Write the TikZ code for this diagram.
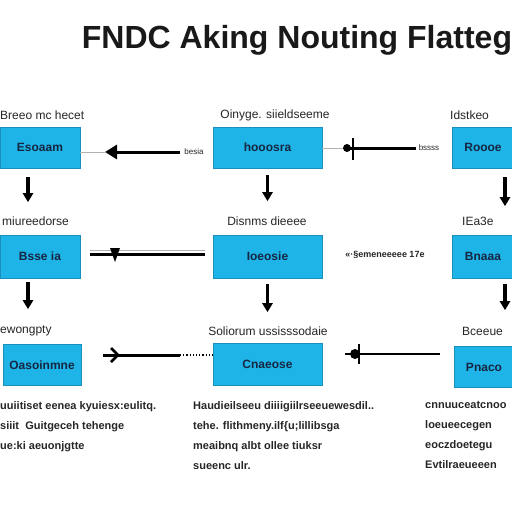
\documentclass[tikz,border=0pt]{standalone}
\usepackage{fontspec}
\setmainfont{Liberation Sans}
\usetikzlibrary{positioning}
\usetikzlibrary{calc}
\usetikzlibrary{arrows.meta}
\definecolor{boxblue}{RGB}{30,180,232}
\definecolor{boxtext}{RGB}{22,38,66}
\definecolor{inkgray}{RGB}{38,38,38}
\tikzset{%
  bx/.style = {rectangle,fill=boxblue,draw=boxblue!80!black,line width=0.4pt,
        minimum height=41pt,inner sep=0pt,font=\fontsize{12}{12}\selectfont\bfseries,
        text=boxtext},
  lbl/.style = {font=\fontsize{12}{12}\selectfont,text=inkgray,inner sep=0pt},
  note/.style = {font=\fontsize{11}{20}\selectfont\bfseries,text=inkgray,
        inner sep=0pt,align=left,anchor=north west},
  downarrow/.style = {-{Triangle[length=9pt,width=10pt]},line width=3.5pt},
  flowline/.style = {line width=3pt},
  thinline/.style = {line width=0.8pt,gray!60}
}
\begin{document}
\begin{tikzpicture}[x=1pt,y=-1pt]
\useasboundingbox (0,0) rectangle (512,512);
\fill[white] (0,0) rectangle (512,512);
% title
\node[font=\fontsize{32}{32}\selectfont\bfseries,text=black!90] (title) at (297,40)
    {FNDC Aking Nouting Flatteg};
% boxes
\node[bx,minimum width=80pt]  (b11) at (40,147.5)  {Esoaam};
\node[bx,minimum width=109pt] (b12) at (267.5,147.5) {hooosra};
\node[bx,minimum width=62pt]  (b13) at (483,147.5) {Roooe};
\node[bx,minimum width=80pt,minimum height=43pt]  (b21) at (40,256.5) {Bsse ia};
\node[bx,minimum width=109pt,minimum height=43pt] (b22) at (267.5,256.5) {Ioeosie};
\node[bx,minimum width=62pt,minimum height=43pt]  (b23) at (483,256.5) {Bnaaa};
\node[bx,minimum width=78pt]  (b31) at (42,365) {Oasoinmne};
\node[bx,minimum width=109pt,minimum height=42pt] (b32) at (267.5,364) {Cnaeose};
\node[bx,minimum width=60pt]  (b33) at (484,367) {Pnaco};
% labels above boxes
\node[lbl,anchor=west] (l11) at (0,115) {Breeo mc hecet};
\node[lbl] (l12) at (275,115) {Oinyge. siieldseeme};
\node[lbl,anchor=west] (l13) at (450,115) {Idstkeo};
\node[lbl,anchor=west] (l21) at (2,221) {miureedorse};
\node[lbl] (l22) at (267,221) {Disnms dieeee};
\node[lbl,anchor=west] (l23) at (462,221) {IEa3e};
\node[lbl,anchor=west] (l31) at (0,331) {ewongpty};
\node[lbl] (l32) at (268,331) {Soliorum ussisssodaie};
\node[lbl,anchor=west] (l33) at (462,331) {Bceeue};
% row 1 connectors
\coordinate (p1) at (105,152);
\coordinate (p2) at (180,152);
\node[lbl,font=\fontsize{8}{8}\selectfont] (s1) at (194,152) {besia};
\draw[thinline] (b11.east |- p1) -- (p1);
\draw[flowline,-{Triangle[length=12pt,width=14pt]}] (p2) -- (p1);
\coordinate (q1) at (347,148);
\coordinate (q2) at (416,148);
\node[lbl,font=\fontsize{8}{8}\selectfont] (s2) at (429,148) {bssss};
\draw[thinline] (b12.east |- q1) -- (q1);
\draw[flowline] (q1) -- (q2);
\fill (q1) circle (4pt);
\draw[line width=1.2pt] ($(q1)+(6,-10)$) -- ($(q1)+(6,12)$);
% row 2 connectors
\coordinate (r1) at (90,254);
\coordinate (r2) at (205,254);
\draw[thinline] ($(r1)+(0,-4)$) -- ($(r2)+(0,-4)$);
\draw[flowline] (r1) -- (r2);
\fill ($(r1)+(20,-6)$) -- ($(r1)+(30,-6)$) -- ($(r1)+(25,8)$) -- cycle;
\node[lbl,font=\fontsize{9}{9}\selectfont\bfseries] (s3) at (385,255)
    {«·§emeneeeee 17e};
% row 3 connectors
\coordinate (t1) at (103,355);
\coordinate (t2) at (180,355);
\draw[flowline] (t1) -- (t2);
\draw[line width=2.5pt] ($(t1)+(8,-7)$) -- ($(t1)+(15,0)$) -- ($(t1)+(8,7)$);
\draw[dotted,line width=1.2pt] (t2) -- (b32.west |- t2);
\coordinate (u1) at (345,354);
\coordinate (u2) at (440,354);
\draw[flowline,line width=2.2pt] (u1) -- (u2);
\fill ($(u1)+(10,0)$) circle (5pt);
\draw[line width=1.2pt] ($(u1)+(14,-10)$) -- ($(u1)+(14,10)$);
% vertical arrows
\draw[downarrow] (b11.south -| 28,0) ++(0,9) coordinate (v11) -- ++(0,25);
\draw[downarrow] (b12.south) ++(0,7) -- ++(0,26);
\draw[downarrow] (b13.south -| 505,0) ++(0,9) -- ++(0,29);
\draw[downarrow] (b21.south -| 28,0) ++(0,4) -- ++(0,27);
\draw[downarrow] (b22.south) ++(0,6) -- ++(0,28);
\draw[downarrow] (b23.south -| 505,0) ++(0,6) -- ++(0,26);
% notes
\node[note] (n1) at (0,401) {uuiitiset eenea kyuiesx:eulitq.\\
    siiit\ \ Guitgeceh tehenge\\ ue:ki aeuonjgtte};
\node[note] (n2) at (193,401) {Haudieilseeu diiiigiilrseeuewesdil..\\
    tehe. flithmeny.ilf\{u;lillibsga\\ meaibnq albt ollee tiuksr\\ sueenc ulr.};
\node[note] (n3) at (425,401) {cnnuuceatcnoo\\ loeueecegen\\ eoczdoetegu\\
    Evtilraeueeen};
\end{tikzpicture}
\end{document}
